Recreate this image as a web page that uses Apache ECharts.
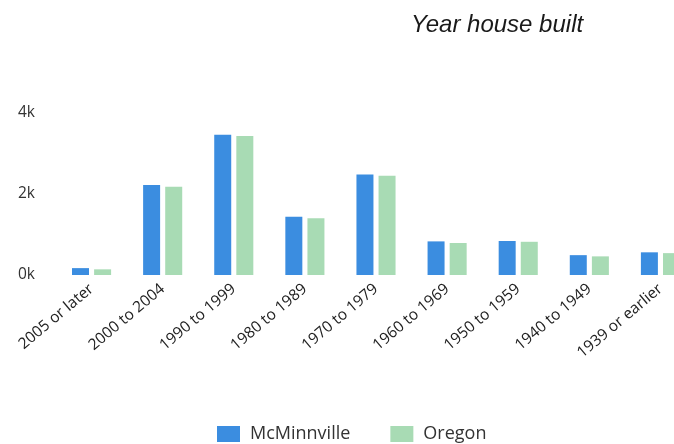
<!DOCTYPE html>
<html>
<head>
<meta charset="utf-8">
<style>
  html, body { margin: 0; padding: 0; background: #fff; }
  #chart { width: 674px; height: 444px; }
</style>
<script src="https://cdn.jsdelivr.net/npm/echarts@6/dist/echarts.min.js"></script>
</head>
<body>
<div id="chart"></div>
<script>
// categories and values
var categories = ["2005 or later", "2000 to 2004", "1990 to 1999", "1980 to 1989", "1970 to 1979",
  "1960 to 1969", "1950 to 1959", "1940 to 1949", "1939 or earlier"];
var mcminnville = [170, 2220, 3460, 1440, 2480, 830, 840, 490, 560];
var oregon = [140, 2180, 3430, 1400, 2450, 790, 820, 460, 540];
var seriesNames = ["McMinnville", "Oregon"];

var chart = echarts.init(document.getElementById("chart"));

var option = {
  animation: false,
  title: {
    text: "Year house built",
    left: 406,
    top: 8,
    textStyle: {
      fontFamily: "Liberation Sans",
      fontStyle: "italic",
      fontWeight: "normal",
      fontSize: 24,
      color: "#1a1a1a",
    },
  },
  legend: {
    data: seriesNames,
    bottom: -4,
    left: 212,
    icon: "rect",
    itemWidth: 23,
    itemHeight: 16,
    itemGap: 40,
    textStyle: {
      fontFamily: "Open Sans",
      fontSize: 18,
      color: "#333",
      padding: [0, 0, 0, 5],
    },
  },
  grid: {
    left: 56,
    width: 640,
    top: 113,
    bottom: 169,
    outerBoundsMode: "none",
  },
  xAxis: {
    type: "category",
    data: categories,
    axisLine: { show: false },
    axisTick: { show: false },
    axisLabel: {
      rotate: 40,
      margin: 12,
      interval: 0,
      fontFamily: "Open Sans",
      fontSize: 15.5,
      color: "#222",
    },
  },
  yAxis: {
    type: "value",
    min: 0,
    max: 4000,
    interval: 2000,
    splitLine: { show: false },
    axisLine: { show: false },
    axisTick: { show: false },
    axisLabel: {
      margin: 21,
      fontFamily: "Open Sans",
      fontSize: 15.5,
      color: "#333",
      formatter: function (v) {
        return v / 1000 + "k";
      },
    },
  },
  series: [
    {
      name: seriesNames[0],
      type: "bar",
      data: mcminnville,
      barWidth: 17,
      barGap: "30%",
      itemStyle: { color: "#3b8de0", borderRadius: 0 },
    },
    {
      name: seriesNames[1],
      type: "bar",
      data: oregon,
      barWidth: 17,
      itemStyle: { color: "#a8dbb4", borderRadius: 0 },
    },
  ],
};

chart.setOption(option);
</script>
</body>
</html>
